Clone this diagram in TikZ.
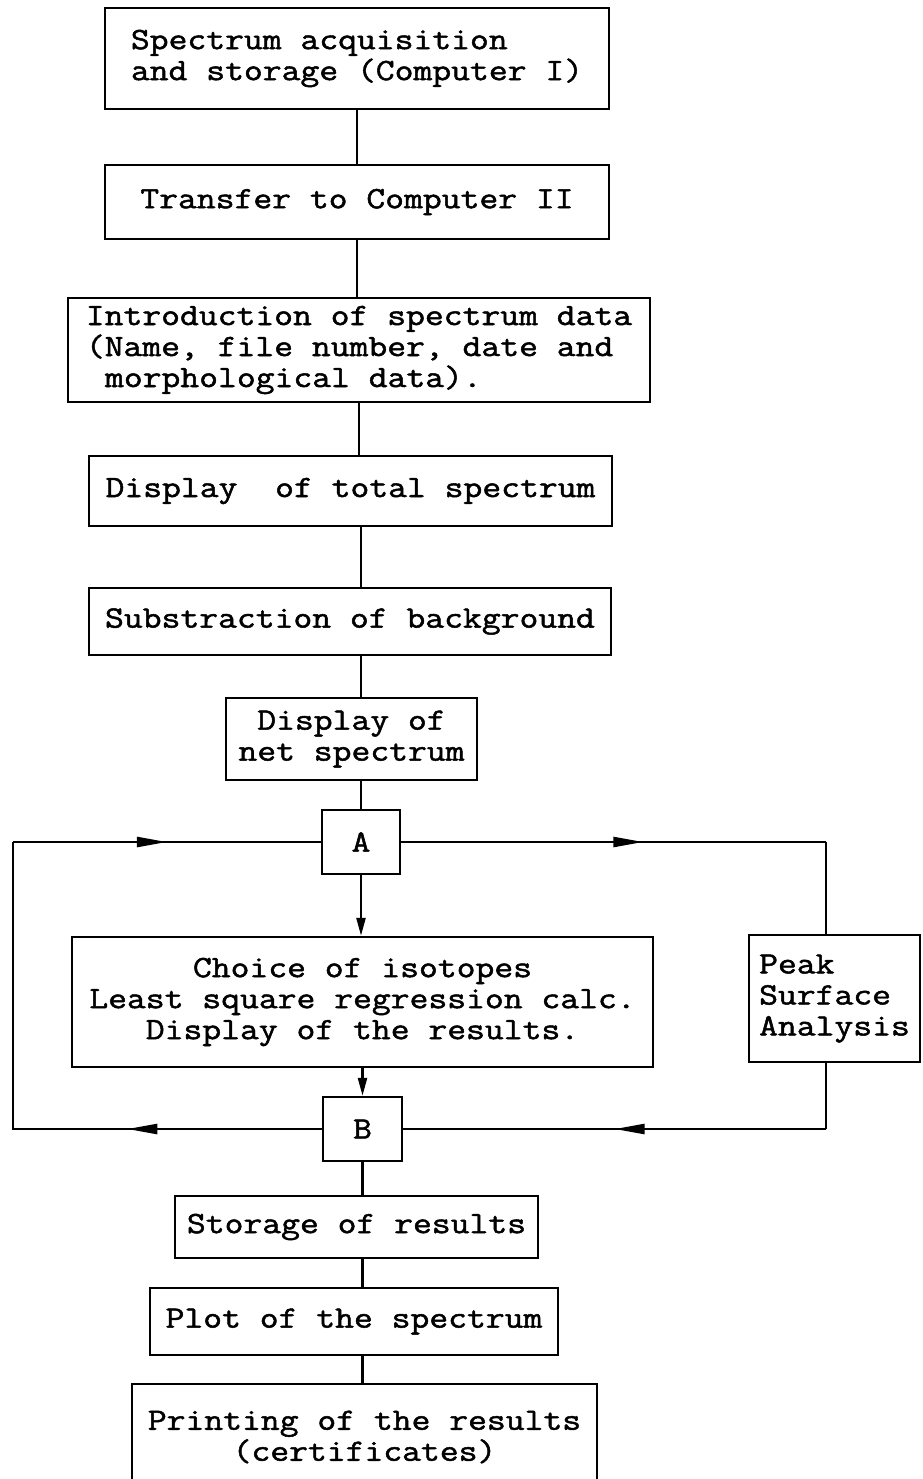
\documentclass[tikz,border=0pt]{standalone}
\usepackage{fontspec}
\newfontfamily\boxfont{Latin Modern Mono}[FakeBold=1.6, FakeStretch=1.18]
\usetikzlibrary{arrows.meta,decorations.markings}
\tikzset{
  box/.style={draw, line width=1.2pt, inner sep=0pt,
    font=\fontsize{15.5}{15.5}\selectfont\boxfont},
  conn/.style={line width=1.2pt},
  flowarrow/.style={postaction={decorate}, decoration={markings,
    mark=at position #1 with {\arrow{Triangle[length=15pt,width=5pt]}}}},
  downarrow/.style={line width=1.2pt, -{Triangle[length=9pt,width=4.5pt]}}
}
\begin{document}
\begin{tikzpicture}[x=0.5pt,y=-0.5pt]
\clip (0,0) rectangle (922,1479);
\fill[white] (0,0) rectangle (922,1479);

\node[box, minimum width=252pt, minimum height=50.5pt, align=left] (b1) at (357,58.5)
  {Spectrum acquisition\\and storage (Computer I)};
\node[box, minimum width=252pt, minimum height=37pt] (b2) at (357,202)
  {Transfer to Computer II};
\node[box, minimum width=291pt, minimum height=52pt, align=left] (b3) at (359,350)
  {Introduction of spectrum data\\(Name, file number, date and\\\hspace*{9.6pt}morphological data).};
\node[box, minimum width=261.5pt, minimum height=35pt] (b4) at (350.5,491)
  {Display~~of total spectrum};
\node[box, minimum width=261pt, minimum height=33.5pt] (b5) at (350,621.5)
  {Substraction of background};
\node[box, minimum width=125.5pt, minimum height=41pt, align=center] (b6) at (351.5,739)
  {Display of\\net spectrum};
\node[box, minimum width=39pt, minimum height=32pt] (A) at (361,842) {A};
\node[box, minimum width=290.5pt, minimum height=65pt, align=center] (ch) at (362.5,1002)
  {Choice of isotopes\\Least square regression calc.\\Display of the results.};
\node[box, minimum width=85.5pt, minimum height=63.5pt, align=left] (pk) at (834.5,998.5)
  {Peak\\Surface\\Analysis};
\node[box, minimum width=39.5pt, minimum height=32pt] (B) at (362.5,1129) {B};
\node[box, minimum width=181.5pt, minimum height=31pt] (st) at (356.5,1227)
  {Storage of results};
\node[box, minimum width=204pt, minimum height=33.5pt] (pl) at (354,1321.5)
  {Plot of the spectrum};
\node[box, minimum width=232.5pt, minimum height=53pt, align=center] (pr) at (364.5,1437)
  {Printing of the results\\(certificates)};

\coordinate (LT) at (13,842);
\coordinate (LB) at (13,1129);
\coordinate (RT) at (826,842);
\coordinate (RB) at (826,1129);

% vertical connectors
\draw[conn] (b1.south) -- (b2.north);
\draw[conn] (b2.south) -- (b2.south |- b3.north);
\draw[conn] (b3.south) -- (b3.south |- b4.north);
\draw[conn] (b4.south -| A) -- (b5.north -| A);
\draw[conn] (b5.south -| A) -- (b6.north -| A);
\draw[conn] (b6.south -| A) -- (A.north);
\draw[downarrow] (A.south) -- (A.south |- ch.north);
\draw[downarrow] (ch.south -| B) -- (B.north);
\draw[conn] (B.south) -- (B.south |- st.north);
\draw[conn] (st.south -| B) -- (pl.north -| B);
\draw[conn] (pl.south -| B) -- (pr.north -| B);

% loop connectors
\draw[conn] (B.west) -- (LB) -- (LT);
\draw[conn, flowarrow=0.63] (B.west) -- (LB);
\draw[conn, flowarrow=0.5] (LT) -- (A.west);
\draw[conn, flowarrow=0.57] (A.east) -- (RT);
\draw[conn] (RT) -- (RT |- pk.north);
\draw[conn] (pk.south -| RB) -- (RB);
\draw[conn, flowarrow=0.5] (RB) -- (B.east);
\end{tikzpicture}
\end{document}
